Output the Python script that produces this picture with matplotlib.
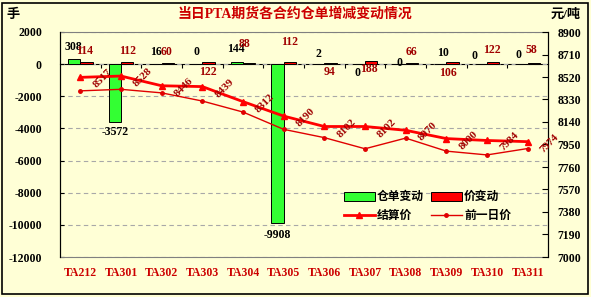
import numpy as np
import matplotlib
matplotlib.use("Agg")
import matplotlib.pyplot as plt
from matplotlib.lines import Line2D
from matplotlib.patches import Patch, Rectangle

plt.rcParams['font.family'] = ['Liberation Serif', 'Noto Sans CJK SC']

# ---------------------------------------------
# Data
# ---------------------------------------------
contracts = ["TA212", "TA301", "TA302", "TA303", "TA304", "TA305",
             "TA306", "TA307", "TA308", "TA309", "TA310", "TA311"]
receipt_change = [308, -3572, 16, 0, 144, -9908, 2, 0, 0, 10, 0, 0]
price_change = [114, 112, 60, 122, 88, 112, 94, 188, 66, 106, 122, 58]
settle_price = [8517, 8528, 8446, 8439, 8312, 8190, 8102, 8102, 8070, 8000, 7984, 7974]
prev_price = [8403, 8416, 8386, 8317, 8224, 8078, 8008, 7914, 8004, 7894, 7862, 7916]

left_ticks = list(range(-12000, 2001, 2000))
right_ticks = list(range(7000, 8901, 190))

# label nudges in pixels (dx, dy), picked to match the reference placement
green_nudge = [(-1, 12), (0, -10), (0, 12), (0, 12), (-1, 12.5), (0, -12),
               (0, 10), (-1, -9), (0, 1), (3, 10.5), (-6, 8), (-3, 9)]
red_nudge = [(-2, 11), (0, 11), (-1, 11), (-1, -10), (-5, 18.5), (0, 20),
             (-1, -9.5), (-2, -8), (0, 11), (-4, -10.5), (-1, 12), (-2, 13)]

BG = "#FFFFD6"
DARKRED = "#A00000"
px = 0.72  # points per pixel at dpi 100

fig = plt.figure(figsize=(5.91, 2.97), dpi=100, facecolor=BG)
ax = fig.add_axes([60 / 591, 40 / 297, 488 / 591, 225 / 297])
ax.set_facecolor(BG)
ax2 = ax.twinx()

x = np.arange(len(contracts))
w = 0.3

# ---------------------------------------------
# Bars
# ---------------------------------------------
ax.bar(x - w / 2, receipt_change, w, color="#33FF33", edgecolor="black", linewidth=0.7, zorder=3)
ax.bar(x + w / 2, price_change, w, color="#FF0000", edgecolor="black", linewidth=0.7, zorder=3)

for i, v in enumerate(receipt_change):
    dx, dy = green_nudge[i]
    ax.annotate(str(v), (x[i] - w / 2, v), xytext=(dx * px, dy * px),
                textcoords="offset points", ha="center", va="center",
                fontsize=8.5, fontweight="bold", color="black", zorder=5)
for i, v in enumerate(price_change):
    dx, dy = red_nudge[i]
    ax.annotate(str(v), (x[i] + w / 2, v), xytext=(dx * px, dy * px),
                textcoords="offset points", ha="center", va="center",
                fontsize=8.5, fontweight="bold", color=DARKRED, zorder=5)

ax.set_xlim(-0.5, len(contracts) - 0.5)
ax.set_ylim(-12000, 2000)
ax.set_yticks(left_ticks)
ax.set_yticklabels([str(t) for t in left_ticks])
ax.yaxis.grid(True, linestyle=(0, (4, 3)), color="#A8A8A8", linewidth=0.8, zorder=0)
ax.set_axisbelow(True)
ax.tick_params(axis="y", direction="in", length=3, pad=13, labelsize=8.5)
for lab in ax.get_yticklabels():
    lab.set_fontweight("bold")

ax.set_xticks(x)
ax.set_xticklabels(contracts, fontsize=8.5, fontweight="bold", color="#CC0000")
ax.tick_params(axis="x", length=0, pad=7)

# category axis crossing at zero
zero_axis = ax.secondary_xaxis(12000 / 14000)
zero_axis.set_xticks(x[:-1] + 0.5)
zero_axis.set_xticklabels([])
zero_axis.tick_params(direction="in", length=3, width=0.8)
zero_axis.spines["bottom"].set_linewidth(0.9)

for side in ["top", "bottom"]:
    ax.spines[side].set_color("#808080")
    ax2.spines[side].set_visible(False)
ax.spines["left"].set_color("black")
ax2.spines["right"].set_color("black")

# ---------------------------------------------
# Price lines
# ---------------------------------------------
ax2.plot(x, settle_price, color="#FF0000", linewidth=2.0, marker="^", markersize=5, zorder=4)
ax2.plot(x, prev_price, color="#E00000", linewidth=1.0, marker="o", markersize=2.5, zorder=4)
for i, v in enumerate(settle_price):
    ax2.annotate(str(v), (x[i], v), xytext=(16, -1), textcoords="offset points",
                 ha="center", va="center", rotation=45, fontsize=8,
                 fontweight="bold", color=DARKRED, zorder=6)

ax2.set_ylim(7000, 8900)
ax2.set_yticks(right_ticks)
ax2.set_yticklabels([str(t) for t in right_ticks])
ax2.tick_params(axis="y", direction="in", length=4, pad=7, labelsize=8.5)
for lab in ax2.get_yticklabels():
    lab.set_fontweight("bold")

# ---------------------------------------------
# Legend
# ---------------------------------------------
handles = [
    Patch(facecolor="#33FF33", edgecolor="black", linewidth=0.7, label="仓单变动"),
    Line2D([], [], color="#FF0000", linewidth=2.0, marker="^", markersize=4, label="结算价"),
    Patch(facecolor="#FF0000", edgecolor="black", linewidth=0.7, label="价变动"),
    Line2D([], [], color="#E00000", linewidth=1.0, marker="o", markersize=2.5, label="前一日价"),
]
leg = ax2.legend(handles=handles, ncol=2, loc="upper left", bbox_to_anchor=(0.56, 0.34),
                 frameon=False, handlelength=2.6, handleheight=0.8,
                 handletextpad=0.2, columnspacing=0.6, labelspacing=0.6,
                 prop={"weight": "bold", "size": 8.5})

# ---------------------------------------------
# Titles and frame
# ---------------------------------------------
fig.text(0.499, 0.952, "当日PTA期货各合约仓单增减变动情况", ha="center", va="center",
         fontsize=10, fontweight="bold", color="#CC0000")
fig.text(13 / 591, 1 - 15 / 297, "手", ha="center", va="center", fontsize=9.5, fontweight="bold")
fig.text(566 / 591, 1 - 15 / 297, "元/吨", ha="center", va="center", fontsize=9.5, fontweight="bold")
fig.patches.append(Rectangle((2 / 591, 3 / 297), 586 / 591, 291 / 297, transform=fig.transFigure,
                             fill=False, edgecolor="black", linewidth=1.2))

fig.savefig("out.png", dpi=100, facecolor=BG)
